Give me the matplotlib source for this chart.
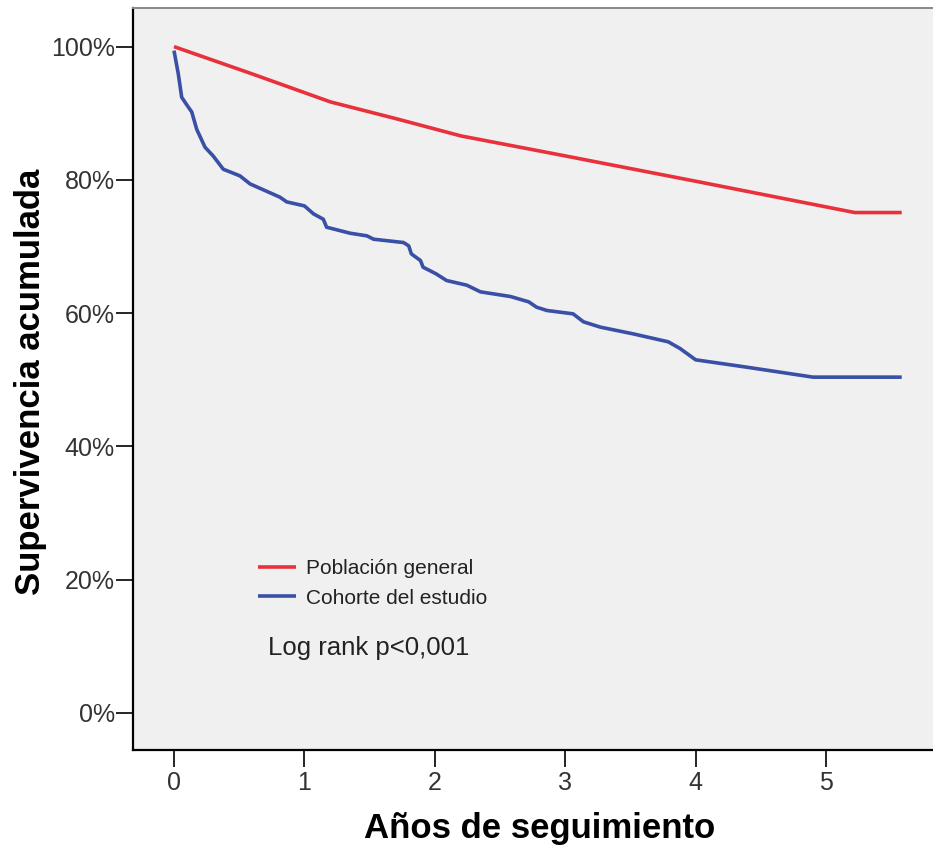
import matplotlib
matplotlib.use("Agg")
import matplotlib.pyplot as plt
from matplotlib.ticker import FuncFormatter

plt.rcParams['font.family'] = ['Liberation Sans', 'DejaVu Sans']

# Poblacion general (expected survival), years / %
pob_x = [0.0, 0.6, 1.2, 1.7, 2.2, 3.0, 4.0, 5.22, 5.58]
pob_y = [100.0, 95.9, 91.7, 89.2, 86.6, 83.6, 79.8, 75.1, 75.1]

# Cohorte del estudio (Kaplan-Meier), years / %
coh_x = [0.0, 0.033, 0.059, 0.10, 0.136, 0.174, 0.238, 0.30, 0.378, 0.506,
         0.583, 0.813, 0.864, 1.0, 1.07, 1.145, 1.17, 1.35, 1.48, 1.53,
         1.76, 1.80, 1.82, 1.89, 1.91, 2.01, 2.09, 2.245, 2.35, 2.58,
         2.72, 2.78, 2.86, 3.06, 3.14, 3.27, 3.52, 3.79, 3.88, 4.0,
         4.39, 4.90, 5.58]
coh_y = [99.4, 95.9, 92.4, 91.2, 90.2, 87.6, 84.9, 83.6, 81.6, 80.6,
         79.4, 77.4, 76.7, 76.1, 74.9, 74.1, 72.9, 72.0, 71.6, 71.1,
         70.6, 70.1, 68.9, 67.9, 66.9, 65.9, 64.9, 64.2, 63.2, 62.5,
         61.7, 60.9, 60.4, 59.9, 58.7, 57.9, 56.9, 55.7, 54.7, 53.0,
         51.9, 50.4, 50.4]

x_ticks = [0, 1, 2, 3, 4, 5]
y_ticks = [0, 20, 40, 60, 80, 100]

fig = plt.figure(figsize=(9.33, 8.48), dpi=100)
ax = fig.add_axes([0.1426, 0.1156, 0.8574, 0.875])
ax.set_facecolor('#f0f0f0')

ax.plot(pob_x, pob_y, color='#e8313b', linewidth=2.6, label='Población general',
        solid_capstyle='butt')
ax.plot(coh_x, coh_y, color='#3a4fa6', linewidth=2.6, label='Cohorte del estudio',
        solid_capstyle='butt')

ax.set_xlim(-0.314, 5.82)
ax.set_ylim(-5.55, 105.8)
ax.set_xticks(x_ticks)
ax.set_yticks(y_ticks)
ax.yaxis.set_major_formatter(FuncFormatter(lambda v, p: '%d%%' % v))

ax.tick_params(axis='both', direction='out', length=12, width=1.2,
               labelsize=18, colors='black', labelcolor='#333333')
ax.tick_params(axis='y', pad=1)
ax.tick_params(axis='x', pad=3)

for s in ['left', 'bottom']:
    ax.spines[s].set_linewidth(1.6)
    ax.spines[s].set_color('black')
ax.spines['top'].set_color('#888888')
ax.spines['top'].set_linewidth(1.4)
ax.spines['right'].set_visible(False)

ax.set_xlabel('Años de seguimiento', fontsize=25, fontweight='bold', va='top')
ax.xaxis.set_label_coords(0.508, -0.084)
ax.set_ylabel('Supervivencia acumulada', fontsize=25, fontweight='bold')
ax.yaxis.set_label_coords(-0.108, 0.496)

leg = ax.legend(loc='upper left', bbox_to_anchor=(0.156, 0.257), frameon=False,
                fontsize=15, handlelength=1.85, handletextpad=0.45,
                labelspacing=0.5, borderpad=0, borderaxespad=0)
for t in leg.get_texts():
    t.set_color('#222222')

ax.text(0.72, 9.75, 'Log rank p<0,001', fontsize=18.5, color='#222222',
        ha='left', va='center')

fig.savefig('out.png', dpi=100, facecolor='white')
